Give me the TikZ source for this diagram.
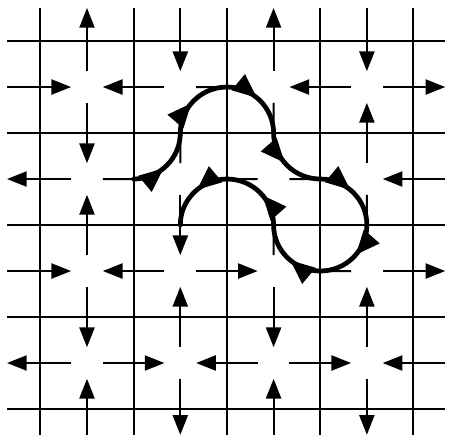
\documentclass[tikz,border=0pt]{standalone}
\usepackage{tikz}
\usetikzlibrary{arrows.meta,calc,decorations.markings}

\begin{document}
\begin{tikzpicture}[x=1cm, y=0.986cm,
    gridline/.style={line width=0.65pt},
    bond/.style={line width=0.6pt, -{Triangle[length=6pt,width=4.6pt]}, shorten <=0.17cm, shorten >=0.17cm},
    inbond/.style={bond, shorten <=0pt},
    outbond/.style={bond, shorten >=0pt},
    halfbond/.style={line width=0.6pt, shorten <=0.17cm},
    loopline/.style={line width=1.45pt, line cap=round, postaction={decorate}, decoration={markings, mark=at position 0.45 with {\arrow{Triangle[length=7.5pt,width=6pt]}}}}
]
\useasboundingbox (0.0675,-0.054) rectangle (4.88,-4.815);

\draw[gridline] (0.5,-0.141) -- (0.5,-4.78);
\draw[gridline] (1.5,-0.141) -- (1.5,-4.78);
\draw[gridline] (2.5,-0.141) -- (2.5,-4.78);
\draw[gridline] (3.5,-0.141) -- (3.5,-4.78);
\draw[gridline] (4.49,-0.141) -- (4.49,-4.78);
\draw[gridline] (0.143,-0.5) -- (4.837,-0.5);
\draw[gridline] (0.143,-1.5) -- (4.837,-1.5);
\draw[gridline] (0.143,-2.5) -- (4.837,-2.5);
\draw[gridline] (0.143,-3.5) -- (4.837,-3.5);
\draw[gridline] (0.143,-4.5) -- (4.837,-4.5);

\coordinate (v11) at (1,-1); \coordinate (v21) at (2,-1); \coordinate (v31) at (3,-1); \coordinate (v41) at (4,-1);
\coordinate (v12) at (1,-2); \coordinate (v22) at (2,-2); \coordinate (v32) at (3,-2); \coordinate (v42) at (4,-2);
\coordinate (v13) at (1,-3); \coordinate (v23) at (2,-3); \coordinate (v33) at (3,-3); \coordinate (v43) at (4,-3);
\coordinate (v14) at (1,-4); \coordinate (v24) at (2,-4); \coordinate (v34) at (3,-4); \coordinate (v44) at (4,-4);

\coordinate (l1) at (0.143,-1); \coordinate (l2) at (0.143,-2); \coordinate (l3) at (0.143,-3); \coordinate (l4) at (0.143,-4);
\coordinate (r1) at (4.84,-1); \coordinate (r2) at (4.84,-2); \coordinate (r3) at (4.84,-3); \coordinate (r4) at (4.84,-4);
\coordinate (t1) at (1,-0.141); \coordinate (t2) at (2,-0.141); \coordinate (t3) at (3,-0.141); \coordinate (t4) at (4,-0.141);
\coordinate (b1) at (1,-4.78); \coordinate (b2) at (2,-4.78); \coordinate (b3) at (3,-4.78); \coordinate (b4) at (4,-4.78);

\draw[inbond] (l1) -- (v11); \draw[bond] (v21) -- (v11); \draw[bond] (v41) -- (v31); \draw[outbond] (v41) -- (r1);
\draw[outbond] (v12) -- (l2); \draw[inbond] (r2) -- (v42);
\draw[inbond] (l3) -- (v13); \draw[bond] (v23) -- (v13); \draw[bond] (v23) -- (v33); \draw[outbond] (v43) -- (r3);
\draw[outbond] (v14) -- (l4); \draw[bond] (v14) -- (v24); \draw[bond] (v34) -- (v24); \draw[bond] (v34) -- (v44); \draw[inbond] (r4) -- (v44);

\draw[outbond] (v11) -- (t1); \draw[bond] (v11) -- (v12); \draw[bond] (v13) -- (v12); \draw[bond] (v13) -- (v14); \draw[inbond] (b1) -- (v14);
\draw[inbond] (t2) -- (v21); \draw[bond] (v22) -- (v23); \draw[bond] (v24) -- (v23); \draw[outbond] (v24) -- (b2);
\draw[outbond] (v31) -- (t3); \draw[bond] (v33) -- (v34); \draw[inbond] (b3) -- (v34);
\draw[inbond] (t4) -- (v41); \draw[bond] (v42) -- (v41); \draw[bond] (v44) -- (v43); \draw[outbond] (v44) -- (b4);

\draw[halfbond] (v12) -- ($(v12)!0.54!(v22)$);
\draw[halfbond] (v22) -- ($(v22)!0.54!(v21)$);
\draw[halfbond] (v21) -- ($(v21)!0.54!(v31)$);
\draw[halfbond] (v31) -- ($(v31)!0.54!(v32)$);
\draw[halfbond] (v32) -- ($(v32)!0.54!(v42)$);
\draw[halfbond] (v42) -- ($(v42)!0.54!(v43)$);
\draw[halfbond] (v43) -- ($(v43)!0.54!(v33)$);
\draw[halfbond] (v33) -- ($(v33)!0.54!(v32)$);
\draw[halfbond] (v32) -- ($(v32)!0.54!(v22)$);

\draw[loopline] ($(v12)!0.5!(v22)$) arc[start angle=270, end angle=360, radius=0.5];
\draw[loopline] ($(v22)!0.5!(v21)$) arc[start angle=180, end angle=90, radius=0.5];
\draw[loopline] ($(v21)!0.5!(v31)$) arc[start angle=90, end angle=0, radius=0.5];
\draw[loopline] ($(v31)!0.5!(v32)$) arc[start angle=180, end angle=270, radius=0.5];
\draw[loopline] ($(v32)!0.5!(v42)$) arc[start angle=90, end angle=0, radius=0.5];
\draw[loopline] ($(v42)!0.5!(v43)$) arc[start angle=0, end angle=-90, radius=0.5];
\draw[loopline] ($(v43)!0.5!(v33)$) arc[start angle=-90, end angle=-180, radius=0.5];
\draw[loopline] ($(v33)!0.5!(v32)$) arc[start angle=0, end angle=90, radius=0.5];
\draw[loopline] ($(v32)!0.5!(v22)$) arc[start angle=90, end angle=180, radius=0.5];
\end{tikzpicture}
\end{document}
